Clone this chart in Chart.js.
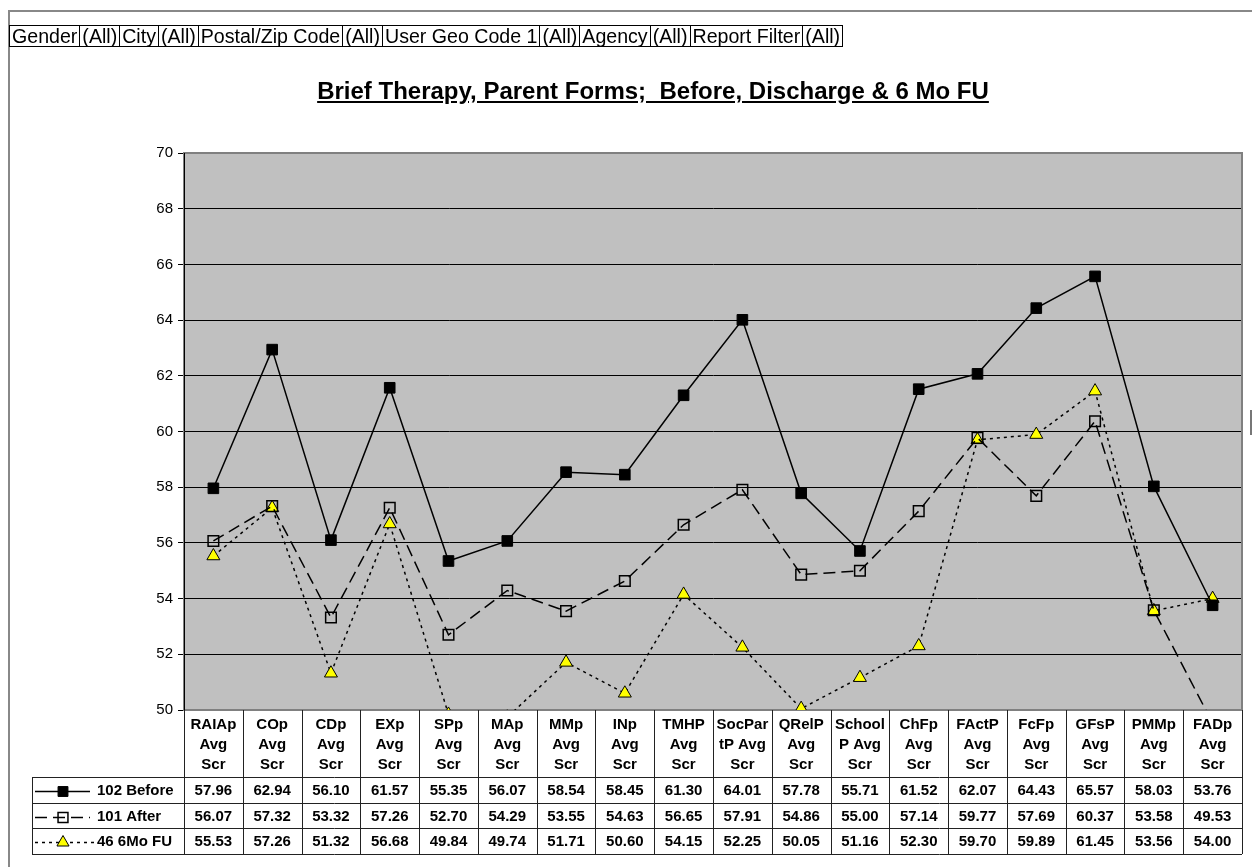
<!DOCTYPE html>
<html>
<head>
<meta charset="utf-8">
<script src="https://cdn.jsdelivr.net/npm/chart.js@4.4.1/dist/chart.umd.min.js"></script>
<style>
html,body{margin:0;padding:0;background:#fff;width:1252px;height:867px;overflow:hidden;}
#wrap{position:relative;width:1252px;height:867px;}
#frame{position:absolute;left:8px;top:10px;width:1300px;height:900px;border-left:2px solid #888;border-top:2px solid #888;box-sizing:border-box;}
#edge{position:absolute;left:1250px;top:410px;width:2px;height:25px;background:#777;}
canvas{position:absolute;left:0;top:0;}
#filters{position:absolute;left:10px;top:25px;display:flex;font-family:"Liberation Sans",Arial,sans-serif;font-size:19.6px;line-height:20px;color:#000;}
#filters span{border:1px solid #000;padding:0 2px;margin-left:-1px;white-space:nowrap;}
#title{position:absolute;left:0;width:1306px;text-align:center;top:77px;font:bold 24px "Liberation Sans",Arial,sans-serif;text-decoration:underline;color:#000;white-space:pre;}
</style>
</head>
<body>
<div id="wrap">
  <div id="frame"></div>
  <canvas id="c" width="1252" height="867"></canvas>
  <div id="edge"></div>
  <div id="filters"></div>
  <div id="title"></div>
</div>
<script>
// ---- data ----
const filterNames = ['Gender', 'City', 'Postal/Zip Code', 'User Geo Code 1', 'Agency', 'Report Filter'];
const filterValues = ['(All)', '(All)', '(All)', '(All)', '(All)', '(All)'];
const chartTitle = 'Brief Therapy, Parent Forms;  Before, Discharge & 6 Mo FU';

const categories = ['RAIAp Avg Scr', 'COp Avg Scr', 'CDp Avg Scr', 'EXp Avg Scr', 'SPp Avg Scr', 'MAp Avg Scr',
  'MMp Avg Scr', 'INp Avg Scr', 'TMHP Avg Scr', 'SocPartP Avg Scr', 'QRelP Avg Scr', 'SchoolP Avg Scr',
  'ChFp Avg Scr', 'FActP Avg Scr', 'FcFp Avg Scr', 'GFsP Avg Scr', 'PMMp Avg Scr', 'FADp Avg Scr'];
const tickLabels = [['RAIAp', 'Avg', 'Scr'], ['COp', 'Avg', 'Scr'], ['CDp', 'Avg', 'Scr'], ['EXp', 'Avg', 'Scr'],
  ['SPp', 'Avg', 'Scr'], ['MAp', 'Avg', 'Scr'], ['MMp', 'Avg', 'Scr'], ['INp', 'Avg', 'Scr'], ['TMHP', 'Avg', 'Scr'],
  ['SocPar', 'tP Avg', 'Scr'], ['QRelP', 'Avg', 'Scr'], ['School', 'P Avg', 'Scr'], ['ChFp', 'Avg', 'Scr'],
  ['FActP', 'Avg', 'Scr'], ['FcFp', 'Avg', 'Scr'], ['GFsP', 'Avg', 'Scr'], ['PMMp', 'Avg', 'Scr'], ['FADp', 'Avg', 'Scr']];

const seriesNames = ['102 Before', '101 After', '46 6Mo FU'];
const before   = [57.96, 62.94, 56.10, 61.57, 55.35, 56.07, 58.54, 58.45, 61.30, 64.01, 57.78, 55.71, 61.52, 62.07, 64.43, 65.57, 58.03, 53.76];
const after    = [56.07, 57.32, 53.32, 57.26, 52.70, 54.29, 53.55, 54.63, 56.65, 57.91, 54.86, 55.00, 57.14, 59.77, 57.69, 60.37, 53.58, 49.53];
const followUp = [55.53, 57.26, 51.32, 56.68, 49.84, 49.74, 51.71, 50.60, 54.15, 52.25, 50.05, 51.16, 52.30, 59.70, 59.89, 61.45, 53.56, 54.00];

const yTicks = [50, 52, 54, 56, 58, 60, 62, 64, 66, 68, 70];

// ---- html text parts ----
const fl = document.getElementById('filters');
filterNames.forEach((n, i) => {
  const a = document.createElement('span'); a.textContent = n; fl.appendChild(a);
  const b = document.createElement('span'); b.textContent = filterValues[i]; fl.appendChild(b);
});
document.getElementById('title').textContent = chartTitle;

// ---- chart ----
const FONT = '"Liberation Sans", Arial, sans-serif';
const series = [before, after, followUp];
const styles = [
  {dash: [], pointStyle: 'rect', radius: 7.5, fill: '#000000', bw: 1},
  {dash: [12, 6], pointStyle: 'rect', radius: 7.5, fill: 'rgba(0,0,0,0)', bw: 1.5},
  {dash: [3, 4], pointStyle: 'triangle', radius: 7.5, fill: '#ffff00', bw: 1}
];
const ROW_H = 25.7;

const plotBg = {
  id: 'plotBg',
  beforeDraw(chart) {
    const {ctx, chartArea: a} = chart;
    ctx.save();
    ctx.fillStyle = '#c0c0c0';
    ctx.fillRect(a.left, a.top, a.right - a.left, a.bottom - a.top);
    ctx.restore();
  },
  beforeDatasetsDraw(chart) {
    const {ctx, chartArea: a} = chart;
    ctx.save();
    ctx.strokeStyle = '#808080';
    ctx.lineWidth = 2;
    ctx.strokeRect(a.left, a.top, a.right - a.left, a.bottom - a.top);
    ctx.strokeStyle = '#000';
    ctx.lineWidth = 1;
    ctx.beginPath();
    ctx.moveTo(a.left + 0.5, a.top);
    ctx.lineTo(a.left + 0.5, a.bottom);
    ctx.stroke();
    ctx.restore();
  }
};

const dataTable = {
  id: 'dataTable',
  afterDraw(chart) {
    const {ctx, chartArea: a} = chart;
    const xs = chart.scales.x;
    const n = categories.length;
    const band = (a.right - a.left) / n;
    const headBottom = Math.round(xs.bottom);
    const tableBottom = Math.round(headBottom + ROW_H * series.length);
    const legLeft = 32;
    ctx.save();
    ctx.strokeStyle = '#222';
    ctx.lineWidth = 1;
    ctx.beginPath();
    for (let i = 0; i <= n; i++) {
      const x = Math.round(a.left + i * band) + 0.5;
      ctx.moveTo(x, a.bottom);
      ctx.lineTo(x, tableBottom);
    }
    ctx.moveTo(legLeft + 0.5, headBottom);
    ctx.lineTo(legLeft + 0.5, tableBottom);
    for (let r = 0; r <= series.length; r++) {
      const y = Math.round(headBottom + r * ROW_H) + 0.5;
      ctx.moveTo(legLeft, y);
      ctx.lineTo(a.right, y);
    }
    ctx.stroke();

    ctx.fillStyle = '#000';
    ctx.font = 'bold 15px ' + FONT;
    ctx.textBaseline = 'middle';
    series.forEach((vals, r) => {
      const yc = headBottom + (r + 0.5) * ROW_H + 1;
      ctx.textAlign = 'center';
      vals.forEach((v, i) => {
        ctx.fillText(v.toFixed(2), xs.getPixelForValue(i), yc);
      });
      // legend key
      const st = styles[r];
      const ly = Math.round(yc) + 0.5;
      ctx.save();
      ctx.strokeStyle = '#000';
      ctx.lineWidth = 1.5;
      ctx.setLineDash(st.dash);
      ctx.beginPath();
      ctx.moveTo(35, ly);
      ctx.lineTo(r === 2 ? 95 : 90, ly);
      ctx.stroke();
      ctx.setLineDash([]);
      ctx.fillStyle = st.fill;
      ctx.strokeStyle = '#000';
      ctx.lineWidth = st.bw;
      Chart.helpers.drawPoint(ctx, {pointStyle: st.pointStyle, radius: st.radius - 0.5, rotation: 0, borderWidth: st.bw}, 63, ly);
      ctx.restore();
      ctx.textAlign = 'left';
      ctx.fillStyle = '#000';
      ctx.fillText(seriesNames[r], 97, yc);
    });
    ctx.restore();
  }
};

new Chart(document.getElementById('c'), {
  type: 'line',
  data: {
    labels: categories,
    datasets: series.map((vals, k) => ({
      label: seriesNames[k],
      data: vals,
      borderColor: '#000',
      borderWidth: 1.5,
      borderDash: styles[k].dash,
      tension: 0,
      fill: false,
      clip: 0,
      pointStyle: styles[k].pointStyle,
      pointRadius: styles[k].radius,
      pointBackgroundColor: styles[k].fill,
      pointBorderColor: '#000',
      pointBorderWidth: styles[k].bw
    }))
  },
  options: {
    responsive: false,
    devicePixelRatio: 1,
    animation: false,
    layout: {padding: {top: 153, right: 10, bottom: 90, left: 0}},
    plugins: {legend: {display: false}, title: {display: false}, tooltip: {enabled: false}},
    scales: {
      x: {
        type: 'category',
        offset: true,
        grid: {display: false, drawTicks: false},
        border: {display: false},
        ticks: {
          autoSkip: false, maxRotation: 0, minRotation: 0, padding: 5, color: '#000',
          font: {family: FONT, size: 15, weight: 'bold', lineHeight: 1.33},
          callback: (v, i) => tickLabels[i]
        },
        afterFit: s => { s.height = 67; }
      },
      y: {
        min: 50, max: 70,
        afterBuildTicks: s => { s.ticks = yTicks.map(v => ({value: v})); },
        grid: {color: '#000', lineWidth: 1, drawTicks: true, tickLength: 6, tickColor: '#000'},
        border: {display: true, color: '#000', width: 1},
        ticks: {color: '#000', padding: 5, font: {family: FONT, size: 15}},
        afterFit: s => { s.width = 184; }
      }
    }
  },
  plugins: [plotBg, dataTable]
});
</script>
</body>
</html>
